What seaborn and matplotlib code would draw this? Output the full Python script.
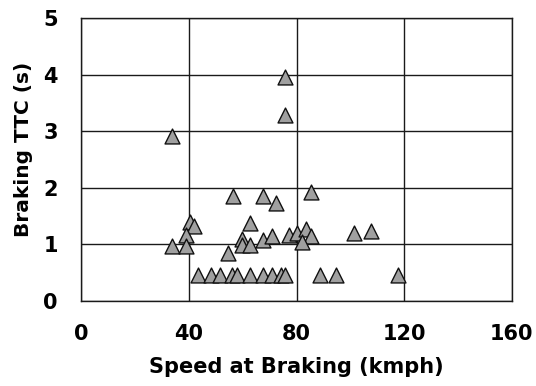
import matplotlib
matplotlib.use("Agg")
import matplotlib.pyplot as plt
import seaborn as sns
import pandas as pd

speed = [75.6, 75.6, 33.8, 56.3, 67.5, 72.3, 85.2, 40.3, 41.9, 62.6, 38.7, 33.7, 38.8,
         59.6, 59.6, 62.6, 67.5, 70.8, 54.6, 77.0, 80.3, 83.5, 85.3, 82.0, 101.3, 107.6,
         43.3, 48.1, 51.4, 56.1, 57.8, 62.6, 67.5, 70.9, 74.1, 75.6, 88.6, 94.8, 117.5]
ttc = [3.96, 3.28, 2.92, 1.86, 1.86, 1.73, 1.93, 1.40, 1.32, 1.38, 1.16, 0.96, 0.96,
       1.10, 0.98, 0.99, 1.07, 1.14, 0.84, 1.17, 1.20, 1.26, 1.15, 1.04, 1.19, 1.24,
       0.45, 0.45, 0.45, 0.45, 0.45, 0.45, 0.45, 0.45, 0.45, 0.45, 0.45, 0.45, 0.45]
x_ticks = [0, 40, 80, 120, 160]
y_ticks = [0, 1, 2, 3, 4, 5]

df = pd.DataFrame({"Speed at Braking (kmph)": speed, "Braking TTC (s)": ttc})

sns.set_style("white")
plt.rcParams['font.family'] = ['DejaVu Sans']
plt.rcParams['text.color'] = 'black'
plt.rcParams['axes.labelcolor'] = 'black'
plt.rcParams['xtick.color'] = 'black'
plt.rcParams['ytick.color'] = 'black'

fig = plt.figure(figsize=(5.36, 3.86), dpi=100)
ax = fig.add_axes([0.152, 0.221, 0.803, 0.732])

sns.scatterplot(data=df, x="Speed at Braking (kmph)", y="Braking TTC (s)", ax=ax,
                marker="^", s=115, color="#a0a0a0", edgecolor="#111111", linewidth=1.0,
                zorder=3)

ax.set_xlim(0, 160)
ax.set_ylim(0, 5)
ax.set_xticks(x_ticks)
ax.set_yticks(y_ticks)
ax.grid(True, color="#1a1a1a", linewidth=1.0)
ax.set_axisbelow(True)
for sp in ax.spines.values():
    sp.set_visible(True)
    sp.set_color("#1a1a1a")
    sp.set_linewidth(1.0)
ax.tick_params(axis="both", direction="out", length=7, width=1.0, color="#1a1a1a",
               labelsize=15, labelcolor="black", pad=10)
for lab in ax.get_xticklabels() + ax.get_yticklabels():
    lab.set_fontweight("bold")
ax.set_xlabel("Speed at Braking (kmph)", fontsize=15, fontweight="bold", labelpad=9,
              color="black")
ax.set_ylabel("Braking TTC (s)", fontsize=14.5, fontweight="bold",
              color="black")
ax.yaxis.set_label_coords(-0.112, 0.535)

fig.savefig("out.png", dpi=100)
